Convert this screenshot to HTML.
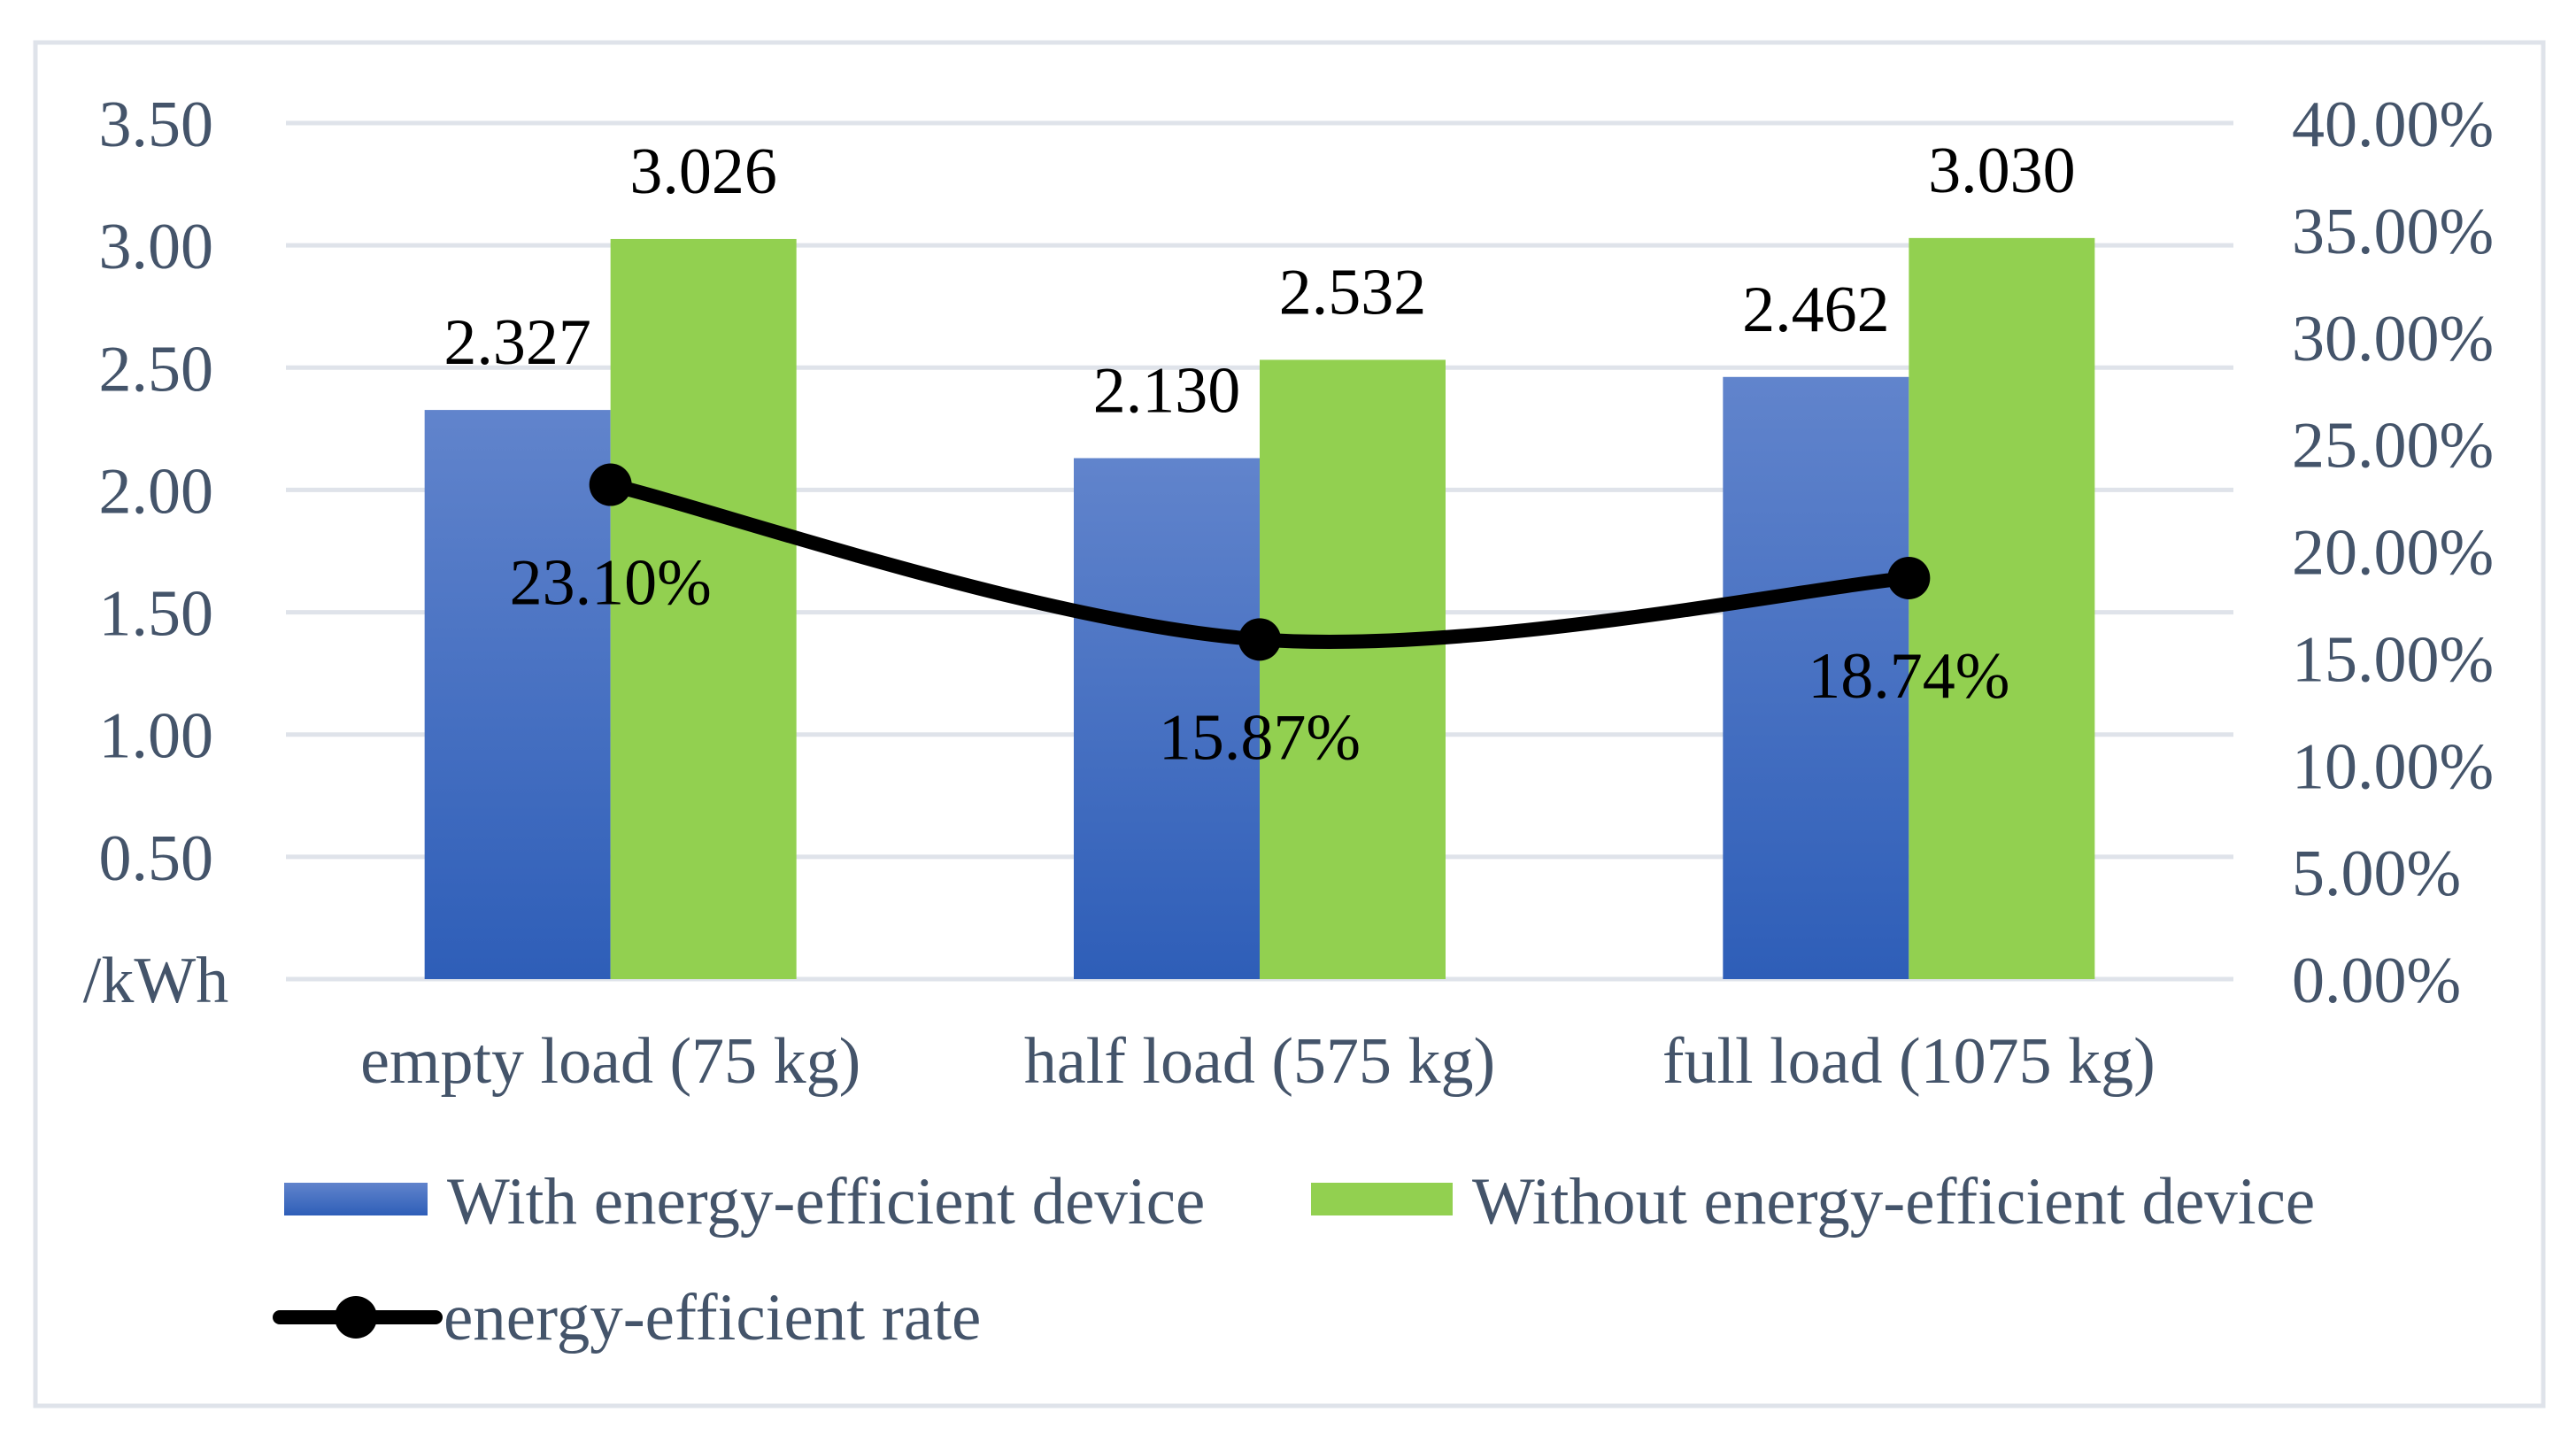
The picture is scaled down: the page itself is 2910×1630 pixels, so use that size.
<!DOCTYPE html>
<html><head><meta charset="utf-8"><style>
html,body{margin:0;padding:0;background:#fff;}
svg{display:block;font-family:"Liberation Serif",serif;}
</style></head><body>
<svg id="chart" width="2910" height="1630" viewBox="0 0 2910 1630">
<defs><linearGradient id="bg" x1="0" y1="0" x2="0" y2="1"><stop offset="0" stop-color="#6184cc"/><stop offset="1" stop-color="#2e5eb8"/></linearGradient></defs>
<rect x="40" y="48" width="2833" height="1540" fill="#fff" stroke="#dfe3ea" stroke-width="5"/>
<g id="grid"></g><g id="bars"></g><g id="line"></g><g id="labels"></g>
<g>
<rect x="321" y="1336" width="162" height="37" fill="url(#bg)"/>
<text x="505" y="1382" font-size="75" fill="#44546a">With energy-efficient device</text>
<rect x="1481" y="1336" width="160" height="37" fill="#92d050"/>
<text x="1663" y="1382" font-size="75" fill="#44546a">Without energy-efficient device</text>
<line x1="316" y1="1488" x2="492" y2="1488" stroke="#000" stroke-width="16" stroke-linecap="round"/>
<circle cx="402" cy="1488" r="24" fill="#000"/>
<text x="501" y="1513" font-size="75" fill="#44546a">energy-efficient rate</text>
</g>
</svg>
<script>
const categories = ["empty load (75 kg)", "half load (575 kg)", "full load (1075 kg)"];
const withDevice = [2.327, 2.130, 2.462];
const withoutDevice = [3.026, 2.532, 3.030];
const rate = [23.10, 15.87, 18.74];
const leftTicks = [0.5, 1.0, 1.5, 2.0, 2.5, 3.0, 3.5];
const rightTicks = [0, 5, 10, 15, 20, 25, 30, 35, 40];

const NS = "http://www.w3.org/2000/svg";
const X0 = 323, X1 = 2523, Y0 = 1106, Y1 = 139;
const yL = v => Y0 - (v / 3.5) * (Y0 - Y1);
const yR = v => Y0 - (v / 40) * (Y0 - Y1);
const catW = (X1 - X0) / categories.length;
const cx = i => X0 + catW * (i + 0.5);
const BW = 210;
function mk(tag, attrs, parent, txt) {
  const e = document.createElementNS(NS, tag);
  for (const k in attrs) e.setAttribute(k, attrs[k]);
  if (txt !== undefined) e.textContent = txt;
  document.getElementById(parent).appendChild(e);
  return e;
}
[0].concat(leftTicks).forEach(v => {
  const g = mk("line", {x1: X0, x2: X1, y1: yL(v), y2: yL(v), stroke: "#dfe3ea", "stroke-width": 5}, "grid");
  
  
});
leftTicks.forEach(v => {
  const t = mk("text", {x: 241, y: yL(v) + 26, "font-size": 74, fill: "#44546a", "text-anchor": "end"}, "labels", v.toFixed(2));
  
  
});
const unit = mk("text", {x: 176, y: yL(0) + 26, "font-size": 74, fill: "#44546a", "text-anchor": "middle"}, "labels", "/kWh");


rightTicks.forEach(v => {
  const t = mk("text", {x: 2589, y: yR(v) + 26, "font-size": 74, fill: "#44546a"}, "labels", v.toFixed(2) + "%");
  
  
});
categories.forEach((c, i) => {
  const t = mk("text", {x: cx(i), y: 1223, "font-size": 74, fill: "#44546a", "text-anchor": "middle"}, "labels", c);
  
  
  const b1 = mk("rect", {x: cx(i) - BW, y: yL(withDevice[i]), width: BW, height: Y0 - yL(withDevice[i]), fill: "url(#bg)"}, "bars");
  
  
  const b2 = mk("rect", {x: cx(i), y: yL(withoutDevice[i]), width: BW, height: Y0 - yL(withoutDevice[i]), fill: "#92d050"}, "bars");
  
  
  const l1 = mk("text", {x: cx(i) - BW / 2, y: yL(withDevice[i]) - 52, "font-size": 74, fill: "#000", "text-anchor": "middle"}, "labels", withDevice[i].toFixed(3));
  
  
  const l2 = mk("text", {x: cx(i) + BW / 2, y: yL(withoutDevice[i]) - 52, "font-size": 74, fill: "#000", "text-anchor": "middle"}, "labels", withoutDevice[i].toFixed(3));
  
  
});
const pts = rate.map((v, i) => [cx(i), yR(v)]);
let d = "M" + pts[0][0] + "," + pts[0][1];
for (let i = 0; i < pts.length - 1; i++) {
  const p0 = pts[Math.max(0, i - 1)], p1 = pts[i], p2 = pts[i + 1], p3 = pts[Math.min(pts.length - 1, i + 2)];
  const c1 = [p1[0] + (p2[0] - p0[0]) / 6, p1[1] + (p2[1] - p0[1]) / 6];
  const c2 = [p2[0] - (p3[0] - p1[0]) / 6, p2[1] - (p3[1] - p1[1]) / 6];
  d += " C" + c1 + " " + c2 + " " + p2;
}
const path = mk("path", {d: d, fill: "none", stroke: "#000", "stroke-width": 16, "stroke-linecap": "round"}, "line");


pts.forEach((p, i) => {
  const c = mk("circle", {cx: p[0], cy: p[1], r: 24, fill: "#000"}, "line");
  
  
  const t = mk("text", {x: p[0], y: p[1] + 135, "font-size": 74, fill: "#000", "text-anchor": "middle"}, "labels", rate[i].toFixed(2) + "%");
  
  
});
</script>
</body></html>
